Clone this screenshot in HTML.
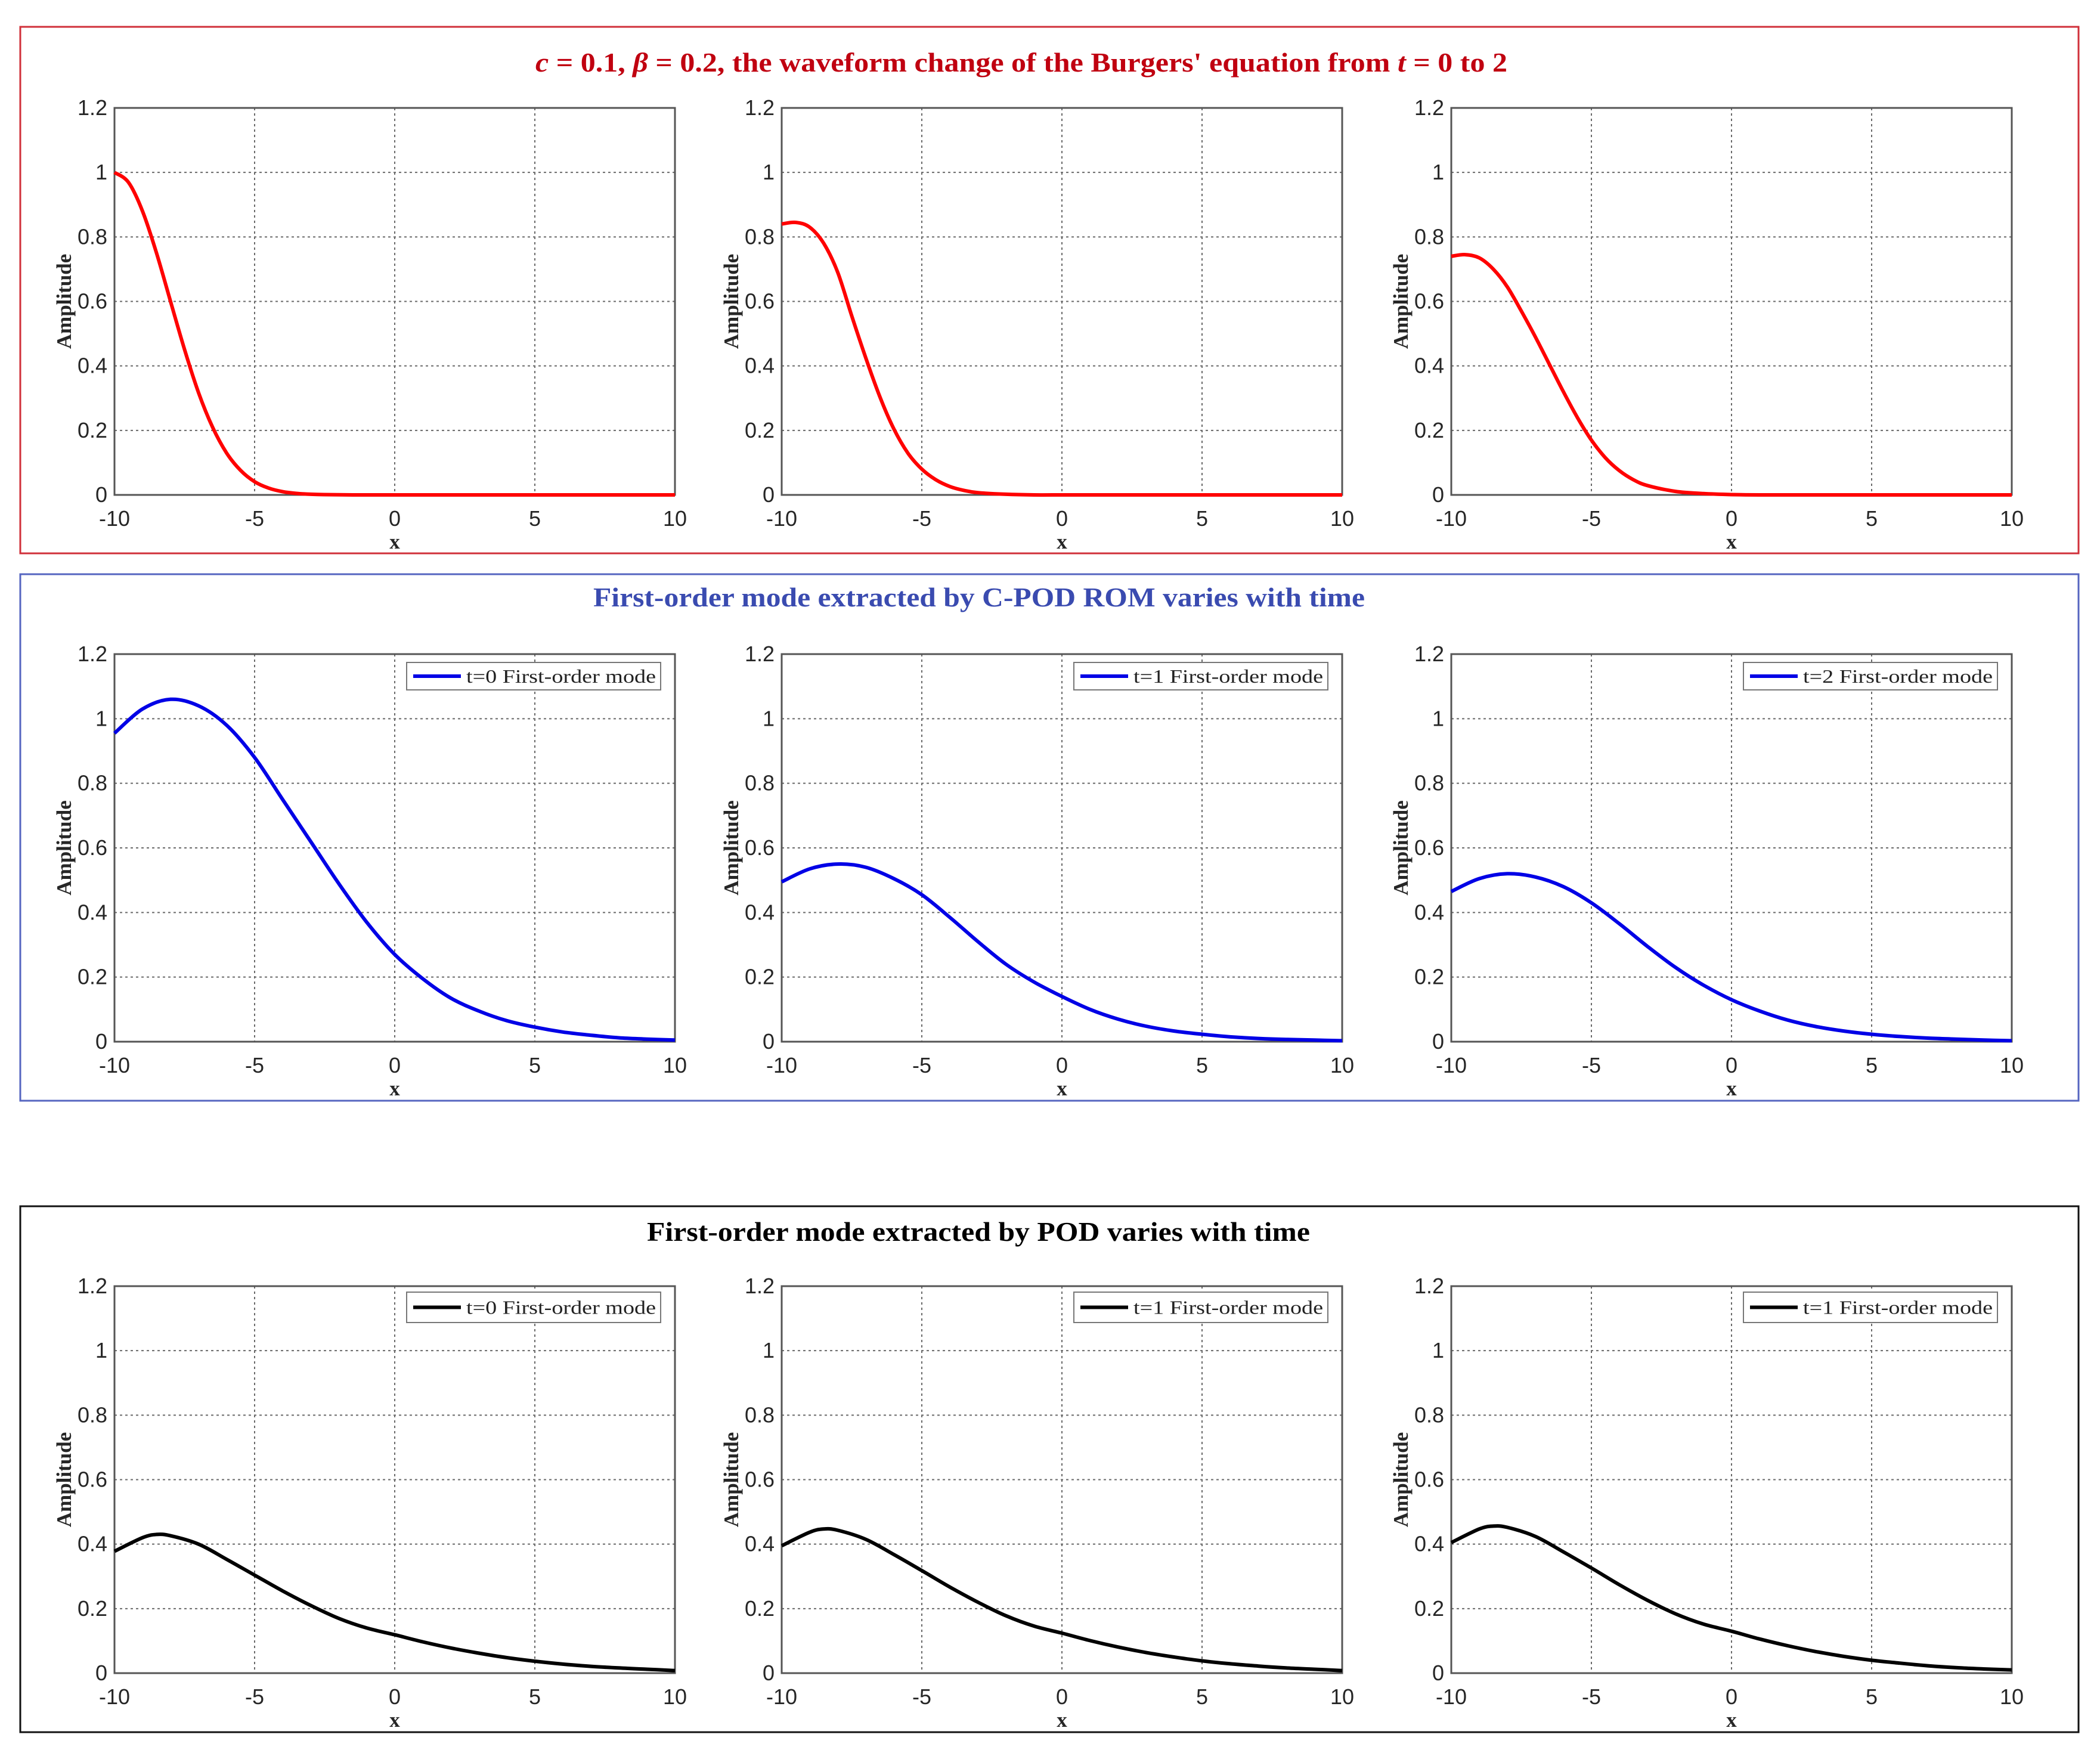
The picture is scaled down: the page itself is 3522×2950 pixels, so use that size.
<!DOCTYPE html>
<html><head><meta charset="utf-8">
<style>
html,body{margin:0;padding:0;background:#fff;}
svg{display:block;}
.tick{font-family:"Liberation Sans",sans-serif;font-size:36px;fill:#262626;}
.ylab{font-family:"Liberation Serif",serif;font-weight:bold;font-size:35px;fill:#262626;}
.leg{font-family:"Liberation Serif",serif;font-size:32px;fill:#222;}
.ttl{font-family:"Liberation Serif",serif;font-weight:bold;font-size:46px;}
</style></head>
<body>
<svg id="fig" width="3522" height="2950" viewBox="0 0 3522 2950" xmlns="http://www.w3.org/2000/svg">
<rect x="0" y="0" width="3522" height="2950" fill="#fff"/>
<rect x="34" y="45" width="3452" height="883" fill="none" stroke="#d0303a" stroke-width="3"/>
<rect x="34" y="963" width="3452" height="883" fill="none" stroke="#5565c0" stroke-width="3"/>
<rect x="34" y="2023" width="3452" height="882" fill="none" stroke="#111" stroke-width="3"/>
<text class="ttl" x="898" y="120" textLength="1630" lengthAdjust="spacingAndGlyphs" fill="#c00010"><tspan font-style="italic">c</tspan> = 0.1, <tspan font-style="italic">β</tspan> = 0.2, the waveform change of the Burgers' equation from <tspan font-style="italic">t</tspan> = 0 to 2</text>
<text class="ttl" x="995" y="1017" textLength="1294" lengthAdjust="spacingAndGlyphs" fill="#3a4bb0">First-order mode extracted by C-POD ROM varies with time</text>
<text class="ttl" x="1085" y="2081" textLength="1112" lengthAdjust="spacingAndGlyphs" fill="#000">First-order mode extracted by POD  varies with time</text>
<g id="plots"></g>
</svg>
<script>
// ---- data ----
const xTicks = [-10, -5, 0, 5, 10];
const yTicks = [0, 0.2, 0.4, 0.6, 0.8, 1, 1.2];
const yTickLabels = ["0", "0.2", "0.4", "0.6", "0.8", "1", "1.2"];
const xTickLabels = ["-10", "-5", "0", "5", "10"];

const redX = [-10,-9.5,-9,-8.5,-8,-7.5,-7,-6.5,-6,-5.5,-5,-4.5,-4,-3.5,-3,-2,-1,0,1,2,3,4,5,6,7,8,9,10];
const redT0 = [1,0.969,0.88,0.75,0.60,0.451,0.317,0.21,0.13,0.076,0.041,0.021,0.010,0.0046,0.002,0.0003,0,0,0,0,0,0,0,0,0,0,0,0];
const redT1 = [0.84,0.845,0.83,0.78,0.69,0.555,0.425,0.305,0.205,0.13,0.08,0.047,0.026,0.014,0.007,0.002,0,0,0,0,0,0,0,0,0,0,0,0];
const redT2 = [0.74,0.745,0.735,0.70,0.645,0.57,0.49,0.405,0.32,0.24,0.17,0.115,0.075,0.047,0.029,0.011,0.004,0.001,0,0,0,0,0,0,0,0,0,0];

const modeX = [-10,-9,-8,-7,-6,-5,-4,-3,-2,-1,0,1,2,3,4,5,6,7,8,9,10];
const cpodT0 = [0.955,1.03,1.06,1.04,0.98,0.88,0.75,0.62,0.49,0.37,0.27,0.195,0.135,0.095,0.065,0.045,0.03,0.02,0.012,0.008,0.005];
const cpodT1 = [0.495,0.535,0.55,0.54,0.505,0.455,0.385,0.31,0.24,0.185,0.14,0.10,0.07,0.048,0.033,0.023,0.015,0.01,0.007,0.005,0.003];
const cpodT2 = [0.465,0.505,0.52,0.51,0.48,0.43,0.365,0.295,0.23,0.175,0.13,0.095,0.067,0.047,0.033,0.023,0.016,0.011,0.008,0.005,0.003];

const podX = [-10,-9,-8.5,-8,-7,-6,-5,-4,-3,-2,-1,0,1,2,3,4,5,6,7,8,9,10];
const podT0 = [0.378,0.42,0.43,0.426,0.40,0.353,0.304,0.255,0.21,0.17,0.14,0.119,0.097,0.078,0.062,0.048,0.037,0.028,0.021,0.016,0.012,0.008];
const podT1 = [0.395,0.437,0.447,0.443,0.415,0.368,0.318,0.267,0.22,0.178,0.146,0.124,0.101,0.081,0.064,0.05,0.038,0.029,0.022,0.016,0.012,0.008];
const podT2 = [0.405,0.447,0.456,0.452,0.424,0.376,0.326,0.274,0.226,0.184,0.152,0.13,0.106,0.085,0.067,0.052,0.04,0.031,0.023,0.017,0.013,0.01];

const legendLabels = ["t=0 First-order mode","t=1 First-order mode","t=2 First-order mode","t=0 First-order mode","t=1 First-order mode","t=1 First-order mode"];

// ---- layout ----
const NS = "http://www.w3.org/2000/svg";
const colLeft = [192, 1311, 2434];
const W = 940;
const rows = [
  {top:181, bottom:830, color:"#ff0000", xs:redX, series:[redT0,redT1,redT2], legend:false, name:"waveform"},
  {top:1097, bottom:1747, color:"#0000e6", xs:modeX, series:[cpodT0,cpodT1,cpodT2], legend:true, legTop:14, legH:46, name:"cpod"},
  {top:2157, bottom:2806, color:"#000000", xs:podX, series:[podT0,podT1,podT2], legend:true, legTop:10, legH:51, name:"pod"}
];
const root = document.getElementById("plots");
function mk(tag, attrs, parent){
  const e = document.createElementNS(NS, tag);
  for (const k in attrs) e.setAttribute(k, attrs[k]);
  (parent||root).appendChild(e);
  return e;
}
function smoothPath(pts){
  let d = "M" + pts[0][0].toFixed(1) + "," + pts[0][1].toFixed(1);
  for (let i=0;i<pts.length-1;i++){
    const p0 = pts[Math.max(0,i-1)], p1 = pts[i], p2 = pts[i+1], p3 = pts[Math.min(pts.length-1,i+2)];
    const c1x = p1[0]+(p2[0]-p0[0])/6, c1y = p1[1]+(p2[1]-p0[1])/6;
    const c2x = p2[0]-(p3[0]-p1[0])/6, c2y = p2[1]-(p3[1]-p1[1])/6;
    d += " C"+c1x.toFixed(1)+","+c1y.toFixed(1)+" "+c2x.toFixed(1)+","+c2y.toFixed(1)+" "+p2[0].toFixed(1)+","+p2[1].toFixed(1);
  }
  return d;
}

rows.forEach((r, ri) => {
  colLeft.forEach((L, ci) => {
    const g = mk("g", {});
    
    
    const xS = v => L + (v + 10) / 20 * W;
    const yS = v => r.bottom - v / 1.2 * (r.bottom - r.top);
    yTicks.forEach((t, i) => {
      if (i === 0 || i === yTicks.length-1) return;
      const ln = mk("line", {x1:L, x2:L+W, y1:yS(t), y2:yS(t), stroke:"#6a6a6a", "stroke-width":2, "stroke-dasharray":"4,5"}, g);
      
      
    });
    xTicks.forEach((t, i) => {
      if (i === 0 || i === xTicks.length-1) return;
      const ln = mk("line", {x1:xS(t), x2:xS(t), y1:r.top, y2:r.bottom, stroke:"#6a6a6a", "stroke-width":2, "stroke-dasharray":"4,5"}, g);
      
      
    });
    const box = mk("rect", {x:L, y:r.top, width:W, height:r.bottom-r.top, fill:"none", stroke:"#555", "stroke-width":3}, g);
    
    
    yTicks.forEach((t, i) => {
      const tx = mk("text", {x:L-12, y:yS(t)+12, "text-anchor":"end", class:"tick"}, g);
      tx.textContent = yTickLabels[i];
      
      
    });
    xTicks.forEach((t, i) => {
      const tx = mk("text", {x:xS(t), y:r.bottom+52, "text-anchor":"middle", class:"tick"}, g);
      tx.textContent = xTickLabels[i];
      
      
    });
    const xl = mk("text", {x:L+W/2, y:r.bottom+90, "text-anchor":"middle", class:"ylab"}, g);
    xl.textContent = "x";
    
    
    const cy = (r.top + r.bottom)/2;
    const yl = mk("text", {x:0, y:0, "text-anchor":"middle", class:"ylab", transform:"translate("+(L-73)+","+cy+") rotate(-90)"}, g);
    yl.textContent = "Amplitude";
    
    
    const vals = r.series[ci];
    const pts = r.xs.map((xv, k) => [xS(xv), yS(vals[k])]);
    const path = mk("path", {d:smoothPath(pts), fill:"none", stroke:r.color, "stroke-width":6, "stroke-linejoin":"round"}, g);
    
    
    if (r.legend) {
      const lg = mk("g", {}, g);
      
      
      const ly = r.top + r.legTop;
      mk("rect", {x:L+490, y:ly, width:426, height:r.legH, fill:"#fff", stroke:"#777", "stroke-width":2}, lg);
      mk("line", {x1:L+501, x2:L+581, y1:ly+r.legH/2, y2:ly+r.legH/2, stroke:r.color, "stroke-width":6}, lg);
      const lt = mk("text", {x:L+590, y:ly+r.legH/2+11, class:"leg", textLength:318, lengthAdjust:"spacingAndGlyphs"}, lg);
      lt.textContent = legendLabels[(ri-1)*3 + ci];
    }
  });
});
</script>
</body></html>
